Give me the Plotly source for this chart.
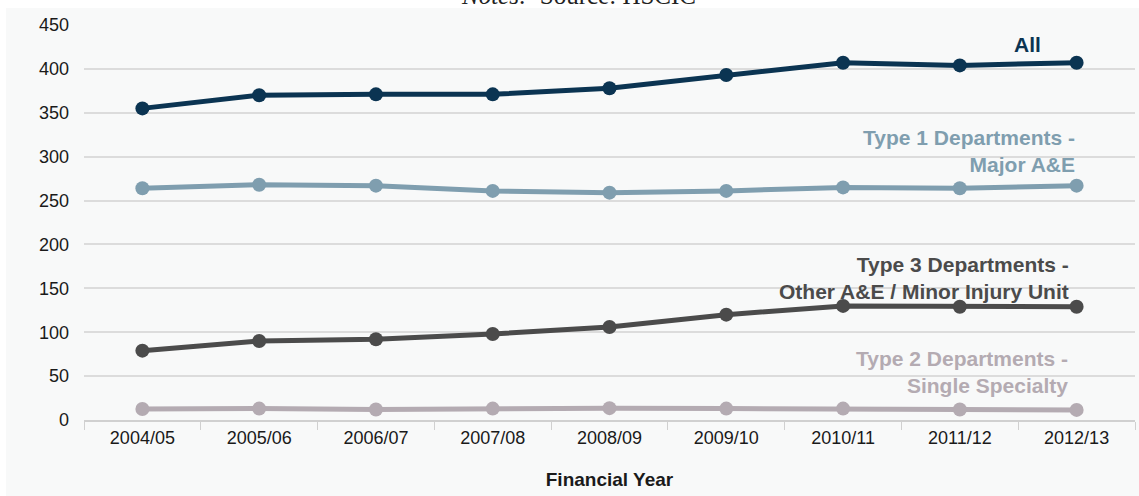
import plotly.graph_objects as go

years = ["2004/05", "2005/06", "2006/07", "2007/08", "2008/09",
         "2009/10", "2010/11", "2011/12", "2012/13"]
all_depts = [355, 370, 371, 371, 378, 393, 407, 404, 407]
type1 = [264, 268, 267, 261, 259, 261, 265, 264, 267]
type3 = [79, 90, 92, 98, 106, 120, 130, 129, 129]
type2 = [12.5, 13, 12, 13, 13.5, 13, 13, 12, 11.5]

y_ticks = [0, 50, 100, 150, 200, 250, 300, 350, 400, 450]

series = [
    ("All", all_depts, "#0b3452"),
    ("Type 1 Departments - Major A&E", type1, "#7f9eaf"),
    ("Type 3 Departments - Other A&E / Minor Injury Unit", type3, "#4b4b4b"),
    ("Type 2 Departments - Single Specialty", type2, "#b4abb2"),
]

fig = go.Figure()
for name, vals, col in series:
    fig.add_trace(go.Scatter(
        x=years, y=vals, name=name, mode="lines+markers",
        line=dict(color=col, width=5),
        marker=dict(color=col, size=14),
        cliponaxis=False,
    ))

W, H = 1139, 496
ml, mr, mt, mb = 84, 4, 25, 76
pw, ph = W - ml - mr, H - mt - mb


def px_x(x):
    return (x - ml) / pw


def px_y(y):
    return (H - mb - y) / ph


label_font = dict(family="Liberation Sans, Arial, sans-serif", size=21)
labels = [
    ("<b>All</b>", 1043, 44, "#0b3452"),
    ("<b>Type 1 Departments -<br>Major A&E</b>", 1077, 151, "#7f9eaf"),
    ("<b>Type 3 Departments -<br>Other A&E / Minor Injury Unit</b>", 1071, 278, "#4b4b4b"),
    ("<b>Type 2 Departments -<br>Single Specialty</b>", 1070, 372, "#b4abb2"),
]
annotations = []
for txt, xr, yc, col in labels:
    annotations.append(dict(
        text=txt, x=px_x(xr), y=px_y(yc), xref="paper", yref="paper",
        xanchor="right", yanchor="middle", align="right", showarrow=False,
        font=dict(label_font, color=col),
    ))

annotations.append(dict(
    text="<i>Notes:</i>  Source: HSCIC", x=px_x(578), y=px_y(-5),
    xref="paper", yref="paper", xanchor="center", yanchor="middle",
    showarrow=False,
    font=dict(family="Liberation Serif, DejaVu Serif, serif", size=25, color="#222222"),
))

fig.update_layout(
    width=W, height=H,
    margin=dict(l=ml, r=mr, t=mt, b=mb),
    paper_bgcolor="white", plot_bgcolor="rgba(0,0,0,0)",
    showlegend=False,
    font=dict(family="Liberation Sans, Arial, sans-serif", size=18, color="#1a1a1a"),
    annotations=annotations,
    shapes=[dict(
        type="rect", xref="paper", yref="paper", layer="below",
        x0=px_x(6), x1=px_x(1139), y0=px_y(496), y1=px_y(8),
        fillcolor="#f8f9f9", line=dict(width=0),
    )],
    xaxis=dict(
        type="category", range=[-0.5, 8.5],
        showgrid=False, zeroline=False,
        showline=True, linecolor="#d0d0d0", linewidth=2,
        ticks="outside", tickson="boundaries", ticklen=8,
        tickcolor="#d0d0d0", tickwidth=1,
        tickfont=dict(size=18, color="#1a1a1a"),
        title=dict(text="<b>Financial Year</b>", font=dict(size=19, color="#1a1a1a"),
                   standoff=26),
    ),
    yaxis=dict(
        range=[0, 450], tickvals=y_ticks,
        showgrid=True, gridcolor="#dcdcdc", gridwidth=1.5,
        zeroline=False, showline=False,
        ticks="", ticklabelstandoff=14,
        tickfont=dict(size=18, color="#1a1a1a"),
    ),
)

fig.write_html("out.html")
